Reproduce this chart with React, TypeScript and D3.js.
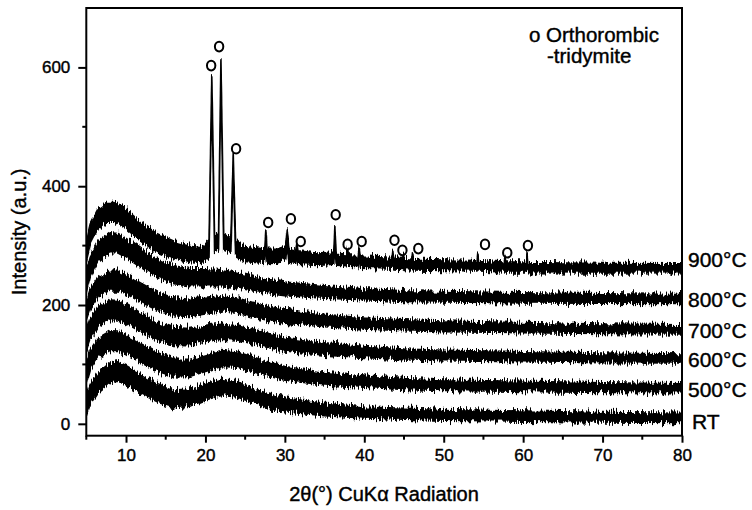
import React, { useEffect, useRef } from "react";
import * as d3 from "d3";

// 2θ grid used for the amorphous patterns (RT .. 800°C)
const angles = [5, 5.5, 6.5, 8, 9, 10, 12, 14, 16, 18, 20, 22, 24, 26, 28, 30, 35, 40, 45, 50, 60, 70, 80];

// intensities (centre of each noisy band)
const rtValues = [30, 50, 70, 86, 88, 82, 66, 52, 42, 44, 54, 61, 58, 48, 38, 32, 24, 19, 17, 15, 13, 11, 10];
const t500Values = [85, 108, 128, 140, 140, 134, 118, 104, 94, 94, 102, 110, 108, 100, 92, 85, 76, 71, 67, 65, 63, 61, 60];
const t600Values = [140, 160, 180, 192, 191, 185, 170, 156, 147, 146, 152, 156, 154, 147, 140, 134, 126, 121, 117, 115, 113, 111, 110];
const t700Values = [190, 210, 230, 242, 242, 235, 220, 206, 197, 195, 199, 202, 199, 192, 186, 181, 174, 169, 166, 164, 162, 160, 159];
const t800Values = [240, 265, 290, 305, 304, 296, 278, 261, 251, 247, 247, 246, 242, 236, 231, 227, 222, 218, 215, 214, 212, 211, 210];

// 900°C pattern has the tridymite reflections
const angles900 = [
  5, 5.5, 6.5, 7.5, 8.5, 10, 12, 14, 16, 18, 19.5, 20.45, 20.8, 21.15, 21.65, 21.95, 22.3, 23.2, 23.5, 23.8,
  25, 27.45, 27.6, 27.75, 29, 30.1, 30.3, 30.5, 31.35, 31.5, 31.65, 34, 36.15, 36.3, 36.45, 37.8, 37.9, 38.0,
  39.2, 39.35, 39.5, 42, 43.5, 43.6, 43.7, 44.8, 44.9, 45.0, 46.0, 46.1, 46.2, 50, 54.2, 54.3, 54.4,
  57.6, 57.7, 57.8, 60.4, 60.5, 60.6, 70, 80,
];
const values900 = [
  292, 320, 346, 356, 356, 345, 322, 304, 293, 286, 284, 294, 574, 304, 306, 601, 306, 300, 440, 296,
  286, 282, 314, 282, 282, 288, 318, 284, 281, 294, 280, 277, 279, 322, 277, 276, 287, 275,
  274, 288, 273, 272, 271, 283, 270, 269, 278, 269, 268, 279, 268, 267, 266, 279, 266,
  264, 272, 264, 264, 278, 263, 262, 262,
];

// peak markers "o" (2θ, intensity)
const markerAngles = [20.72, 21.72, 23.86, 27.9, 30.76, 32.0, 36.4, 37.9, 39.67, 43.8, 44.8, 46.8, 55.2, 58.0, 60.6];
const markerValues = [603, 635, 463, 339, 345, 307, 352, 302, 307, 309, 292, 295, 302, 288, 300];

const seriesLabels = ["RT", "500°C", "600°C", "700°C", "800°C", "900°C"];

const xTicks = [10, 20, 30, 40, 50, 60, 70, 80];
const xMinorTicks = [5, 15, 25, 35, 45, 55, 65, 75];
const yTicks = [0, 200, 400, 600];
const yMinorTicks = [100, 300, 500];

const FONT = "'Liberation Sans', Arial, Helvetica, sans-serif";

const App = () => {
  const ref = useRef<HTMLDivElement>(null);

  useEffect(() => {
    d3.select(ref.current).selectAll("*").remove();

    const width = 752;
    const height = 510;
    const left = 86.3;
    const right = 682;
    const top = 8;
    const bottom = 435.7;

    const svg = d3
      .select(ref.current)
      .append("svg")
      .attr("width", width)
      .attr("height", height)
      .style("position", "absolute")
      .style("left", 0)
      .style("top", 0)
      .style("background", "#fff");

    // fuzzy edges for the noisy bands (vertical displacement only)
    const defs = svg.append("defs");
    const filter = defs
      .append("filter")
      .attr("id", "fuzz")
      .attr("filterUnits", "userSpaceOnUse")
      .attr("x", 0)
      .attr("y", 0)
      .attr("width", width)
      .attr("height", height);
    filter
      .append("feTurbulence")
      .attr("type", "fractalNoise")
      .attr("baseFrequency", "0.8 0.06")
      .attr("numOctaves", 2)
      .attr("seed", 4)
      .attr("result", "noise");
    filter
      .append("feColorMatrix")
      .attr("in", "noise")
      .attr("type", "matrix")
      .attr("values", "0 0 0 0 0.5  0 1 0 0 0  0 0 0 0 0  0 0 0 0 1")
      .attr("result", "map");
    filter
      .append("feDisplacementMap")
      .attr("in", "SourceGraphic")
      .attr("in2", "map")
      .attr("scale", 12)
      .attr("xChannelSelector", "R")
      .attr("yChannelSelector", "G");

    const x = d3.scaleLinear().domain([5, 80]).range([left, right]);
    const y = d3.scaleLinear().domain([-20, 700]).range([bottom, top]);

    // noise band half-thickness (px) along 2θ
    const halfBand = d3.scaleLinear().domain([5, 12, 25, 40, 80]).range([10, 9.5, 7.5, 5.5, 4.5]).clamp(true);

    const series = [
      { xs: angles, vs: rtValues },
      { xs: angles, vs: t500Values },
      { xs: angles, vs: t600Values },
      { xs: angles, vs: t700Values },
      { xs: angles, vs: t800Values },
      { xs: angles900, vs: values900 },
    ];

    const area = d3
      .area<[number, number]>()
      .x((d) => x(d[0]))
      .y0((d) => y(d[1]) + halfBand(d[0]))
      .y1((d) => y(d[1]) - halfBand(d[0]));

    svg
      .append("clipPath")
      .attr("id", "plot-clip")
      .append("rect")
      .attr("x", left)
      .attr("y", top)
      .attr("width", right - left)
      .attr("height", bottom - top);

    const plot = svg.append("g").attr("clip-path", "url(#plot-clip)").append("g").attr("filter", "url(#fuzz)");
    series.forEach((s) => {
      const pts = s.xs.map((a, i) => [a, s.vs[i]] as [number, number]);
      plot
        .append("path")
        .attr("d", area(pts))
        .attr("fill", "#000")
        .attr("stroke", "#000")
        .attr("stroke-width", 1.6)
        .attr("stroke-linejoin", "round");
    });

    // peak markers
    svg
      .append("g")
      .selectAll("ellipse")
      .data(markerAngles)
      .enter()
      .append("ellipse")
      .attr("cx", (d) => x(d))
      .attr("cy", (_, i) => y(markerValues[i]))
      .attr("rx", 4.2)
      .attr("ry", 4.8)
      .attr("fill", "none")
      .attr("stroke", "#000")
      .attr("stroke-width", 2);

    // frame
    svg
      .append("rect")
      .attr("x", left)
      .attr("y", top)
      .attr("width", right - left)
      .attr("height", bottom - top)
      .attr("fill", "none")
      .attr("stroke", "#000")
      .attr("stroke-width", 2);

    const styleText = (sel: any, size: number) =>
      sel
        .attr("font-family", FONT)
        .attr("font-size", size)
        .attr("fill", "#000")
        .attr("stroke", "#000")
        .attr("stroke-width", 0.4);

    // x axis
    const xAxis = svg
      .append("g")
      .attr("transform", `translate(0,${bottom})`)
      .call(d3.axisBottom(x).tickValues(xTicks).tickSize(7).tickPadding(6).tickFormat(d3.format("d")));
    xAxis.select(".domain").remove();
    xAxis.selectAll("line").attr("stroke-width", 2);
    styleText(xAxis.selectAll("text"), 17);
    svg
      .append("g")
      .selectAll("line")
      .data(xMinorTicks)
      .enter()
      .append("line")
      .attr("x1", (d) => x(d))
      .attr("x2", (d) => x(d))
      .attr("y1", bottom)
      .attr("y2", bottom + 4)
      .attr("stroke", "#000")
      .attr("stroke-width", 2);

    // y axis
    const yAxis = svg
      .append("g")
      .attr("transform", `translate(${left},0)`)
      .call(d3.axisLeft(y).tickValues(yTicks).tickSize(8).tickPadding(8).tickFormat(d3.format("d")));
    yAxis.select(".domain").remove();
    yAxis.selectAll("line").attr("stroke-width", 2);
    styleText(yAxis.selectAll("text"), 17);
    svg
      .append("g")
      .selectAll("line")
      .data(yMinorTicks)
      .enter()
      .append("line")
      .attr("x1", left - 4)
      .attr("x2", left)
      .attr("y1", (d) => y(d))
      .attr("y2", (d) => y(d))
      .attr("stroke", "#000")
      .attr("stroke-width", 2);

    // series labels at the right end
    seriesLabels.forEach((label, i) => {
      const last = series[i].vs[series[i].vs.length - 1];
      const nudge = i === 5 ? -9 : i === 0 ? 4 : 1;
      styleText(
        svg
          .append("text")
          .attr("x", label === "RT" ? 692 : 688)
          .attr("y", y(last) + nudge)
          .attr("dy", "0.35em")
          .text(label),
        21
      );
    });

    // axis titles
    styleText(
      svg
        .append("text")
        .attr("transform", `translate(26,${(top + bottom) / 2 + 10}) rotate(-90)`)
        .attr("text-anchor", "middle")
        .text("Intensity (a.u.)"),
      20
    );

    styleText(
      svg.append("text").attr("x", 384).attr("y", 501).attr("text-anchor", "middle").text("2θ(°) CuKα Radiation"),
      20
    );

    // legend
    styleText(svg.append("text").attr("x", 529).attr("y", 42).text("o Orthorombic"), 20.5);
    styleText(svg.append("text").attr("x", 547).attr("y", 63).text("-tridymite"), 20.5);
  }, []);

  return <div ref={ref}></div>;
};

export default App;
